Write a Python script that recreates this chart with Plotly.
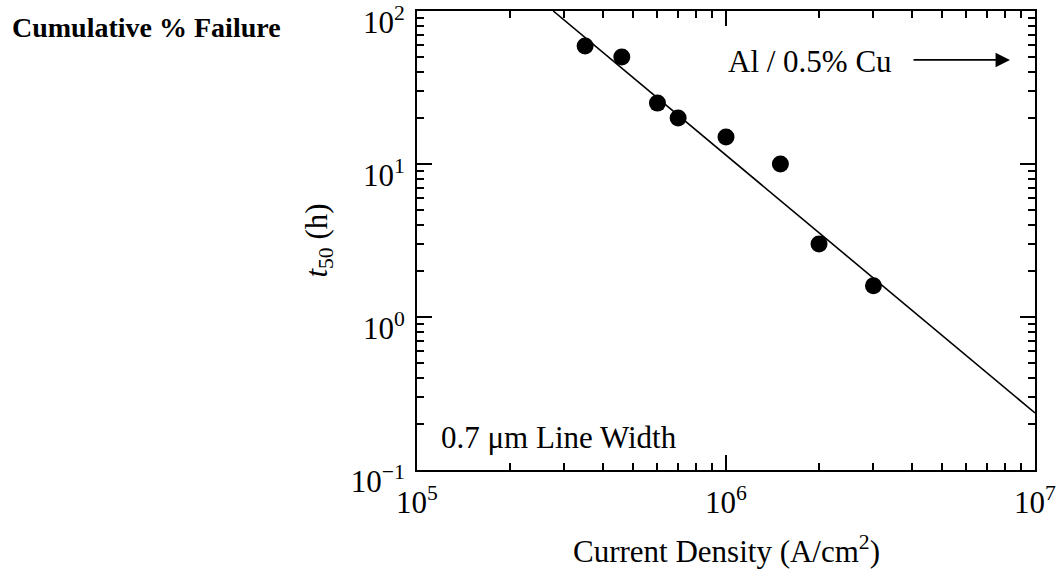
import plotly.graph_objects as go

# Data
current_density = [3.5e5, 4.6e5, 6.0e5, 7.0e5, 1.0e6, 1.5e6, 2.0e6, 3.0e6]
t50_hours = [59, 50, 25, 20, 15, 10, 3.0, 1.6]

fit_x = [2.76e5, 1.0e7]
fit_y = [100, 0.236]

x_tickvals = [1e5, 1e6, 1e7]
x_ticktext = ["10<sup>5</sup>", "10<sup>6</sup>", "10<sup>7</sup>"]
y_tickvals = [0.1, 1, 10, 100]
y_ticktext = ["10<sup>−1</sup>", "10<sup>0</sup>", "10<sup>1</sup>", "10<sup>2</sup>"]

FONT = "Liberation Serif"
FS = 31

fig = go.Figure()
fig.add_trace(go.Scatter(x=fit_x, y=fit_y, mode="lines",
                         line=dict(color="black", width=1.6), showlegend=False))
fig.add_trace(go.Scatter(x=current_density, y=t50_hours, mode="markers",
                         marker=dict(color="black", size=17), showlegend=False))

axis_common = dict(
    type="log", showgrid=False, zeroline=False, automargin=False,
    showline=True, linecolor="black", linewidth=2, mirror="ticks",
    ticks="inside", ticklen=15, tickwidth=1.6, tickcolor="black",
    tickmode="array", ticklabeloverflow="allow",
    tickfont=dict(family=FONT, size=FS, color="black"),
    minor=dict(ticks="inside", ticklen=7, tickwidth=1.6, tickcolor="black",
               dtick="D1", showgrid=False),
)

fig.update_xaxes(range=[5, 7], tickvals=x_tickvals, ticktext=x_ticktext,
                 ticklabelstandoff=4, **axis_common)
fig.update_yaxes(range=[-1, 2], tickvals=y_tickvals, ticktext=y_ticktext,
                 ticklabelstandoff=4, ticklabelshift=11, **axis_common)

fig.update_layout(
    width=1057, height=573,
    margin=dict(l=417, r=22, t=11, b=103),
    paper_bgcolor="white", plot_bgcolor="white",
    font=dict(family=FONT, color="black"),
    annotations=[
        dict(text="<b>Cumulative % Failure</b>", xref="paper", yref="paper",
             x=-0.659, y=0.963, xanchor="left", yanchor="middle",
             showarrow=False, font=dict(family=FONT, size=28, color="black")),
        dict(text="<i>t</i><sub>50</sub> (h)", xref="paper", yref="paper",
             x=-0.16, y=0.5, xanchor="center", yanchor="middle", textangle=-90,
             showarrow=False, font=dict(family=FONT, size=FS, color="black")),
        dict(text="Current Density (A/cm<sup>2</sup>)", xref="paper", yref="paper",
             x=0.501, y=-0.174, xanchor="center", yanchor="middle",
             showarrow=False, font=dict(family=FONT, size=FS, color="black")),
        dict(text="Al / 0.5% Cu", xref="x", yref="y", x=6.272, y=1.67,
             xanchor="center", yanchor="middle", showarrow=False,
             font=dict(family=FONT, size=FS, color="black")),
        dict(text="", xref="x", yref="y", x=6.919, y=1.68,
             axref="x", ayref="y", ax=6.602, ay=1.68,
             showarrow=True, arrowhead=2, arrowsize=1.6, arrowwidth=1.8,
             arrowcolor="black"),
        dict(text="0.7 μm Line Width", xref="x", yref="y", x=5.46, y=-0.79,
             xanchor="center", yanchor="middle", showarrow=False,
             font=dict(family=FONT, size=FS, color="black")),
    ],
)

fig.write_html("out.html")
